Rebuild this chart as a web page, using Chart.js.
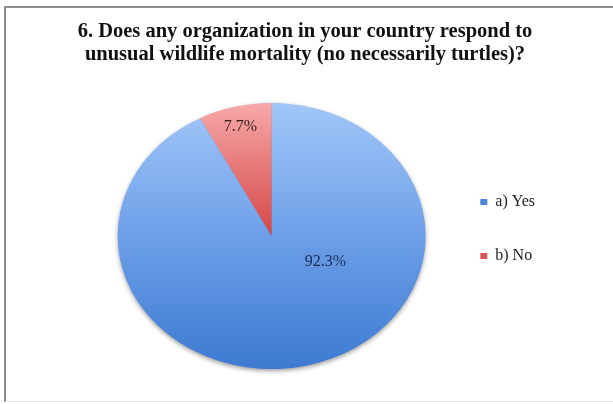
<!DOCTYPE html>
<html><head><meta charset="utf-8">
<script src="https://cdn.jsdelivr.net/npm/chart.js@4.4.1/dist/chart.umd.min.js"></script>
<style>
html,body{margin:0;padding:0;background:#fff;overflow:hidden;width:613px;height:404px;}
#frame{position:absolute;left:4px;top:6px;width:612px;height:393px;border-top:2px solid #8c8c8c;border-left:2px solid #8c8c8c;border-bottom:1px solid #e4e4e4;}
#wrap{position:absolute;left:0;top:0;width:613px;height:404px;}
</style>
</head><body>
<div id="frame"></div>
<div id="wrap"><canvas id="c" width="613" height="404"></canvas></div>
<script>
const categories = ['a) Yes', 'b) No'];
const shares = [92.3, 7.7];
const titleLines = ['6. Does any organization in your country respond to', 'unusual wildlife mortality (no necessarily turtles)?'];
const legendColors = ['#4a84dd', '#dc5252'];
const gradientStops = [
  [[0, '#a2c7f8'], [0.5, '#6d9fe8'], [1, '#3d7ad1']],
  [[0, '#f7a9a9'], [0.5, '#d54646'], [1, '#b83232']]
];
const labelColors = ['#1d2b52', '#3a1e1e'];
const labelRadius = [0.40, 0.845];
const labelAngleShift = [-47, 0];

const PIE_R = 154;
const SQUASH = 0.864;

function sliceFill(c) {
  const i = c.dataIndex;
  const chart = c.chart;
  const a = chart.chartArea;
  if (!a) return legendColors[i];
  const cy = (a.top + a.bottom) / 2;
  const g = chart.ctx.createLinearGradient(0, cy - PIE_R, 0, cy + PIE_R);
  gradientStops[i].forEach(([o, col]) => g.addColorStop(o, col));
  return g;
}

const ellipsePlugin = {
  id: 'ellipse',
  beforeDatasetsDraw(chart) {
    const arc = chart.getDatasetMeta(0).data[0];
    const ctx = chart.ctx;
    ctx.save();
    ctx.translate(arc.x, arc.y);
    ctx.scale(1, SQUASH);
    ctx.translate(-arc.x, -arc.y);
    ctx.save();
    ctx.shadowColor = 'rgba(0,0,0,0.45)';
    ctx.shadowBlur = 5;
    ctx.shadowOffsetY = 2;
    ctx.beginPath();
    ctx.arc(arc.x, arc.y, arc.outerRadius - 0.5, 0, Math.PI * 2);
    ctx.fillStyle = '#5b8fe0';
    ctx.fill();
    ctx.restore();
  },
  afterDatasetsDraw(chart) {
    const ctx = chart.ctx;
    ctx.restore();
    const meta = chart.getDatasetMeta(0);
    ctx.save();
    ctx.font = '16px "Liberation Serif"';
    ctx.textAlign = 'center';
    ctx.textBaseline = 'middle';
    meta.data.forEach((arc, i) => {
      const mid = (arc.startAngle + arc.endAngle) / 2 + labelAngleShift[i] * Math.PI / 180;
      const r = arc.outerRadius * labelRadius[i];
      const x = arc.x + Math.cos(mid) * r;
      const y = arc.y + Math.sin(mid) * r * SQUASH;
      ctx.fillStyle = labelColors[i];
      ctx.fillText(shares[i].toFixed(1) + '%', x, y);
    });
    ctx.restore();
  }
};

new Chart(document.getElementById('c'), {
  type: 'pie',
  data: {
    labels: categories,
    datasets: [{
      data: shares,
      backgroundColor: sliceFill,
      borderWidth: 0,
      radius: PIE_R,
      hoverOffset: 0,
      offset: 0
    }]
  },
  options: {
    responsive: false,
    animation: false,
    events: [],
    layout: { padding: { left: 65, right: 68, top: 0, bottom: 14 } },
    plugins: {
      tooltip: { enabled: false },
      title: {
        display: true,
        text: titleLines,
        color: '#111',
        font: { family: 'Liberation Serif', size: 20.5, weight: 'bold', lineHeight: 1.12 },
        padding: { top: 20, bottom: 16 }
      },
      subtitle: {
        display: true,
        text: '',
        position: 'left',
        fullSize: false,
        font: { size: 1, lineHeight: 1 },
        padding: { top: 0, bottom: 35 }
      },
      legend: {
        position: 'right',
        align: 'center',
        fullSize: false,
        title: { display: true, text: '', padding: { top: -7.5, bottom: -7.5 }, font: { size: 1, lineHeight: 1 } },
        labels: {
          color: '#222',
          font: { family: 'Liberation Serif', size: 16 },
          boxWidth: 7,
          boxHeight: 6,
          padding: 38,
          generateLabels(chart) {
            const items = Chart.overrides.pie.plugins.legend.labels.generateLabels(chart);
            items.forEach((it, i) => { it.fillStyle = legendColors[i]; it.strokeStyle = legendColors[i]; it.lineWidth = 0; });
            return items;
          }
        }
      }
    }
  },
  plugins: [ellipsePlugin]
});
</script>
</body></html>
